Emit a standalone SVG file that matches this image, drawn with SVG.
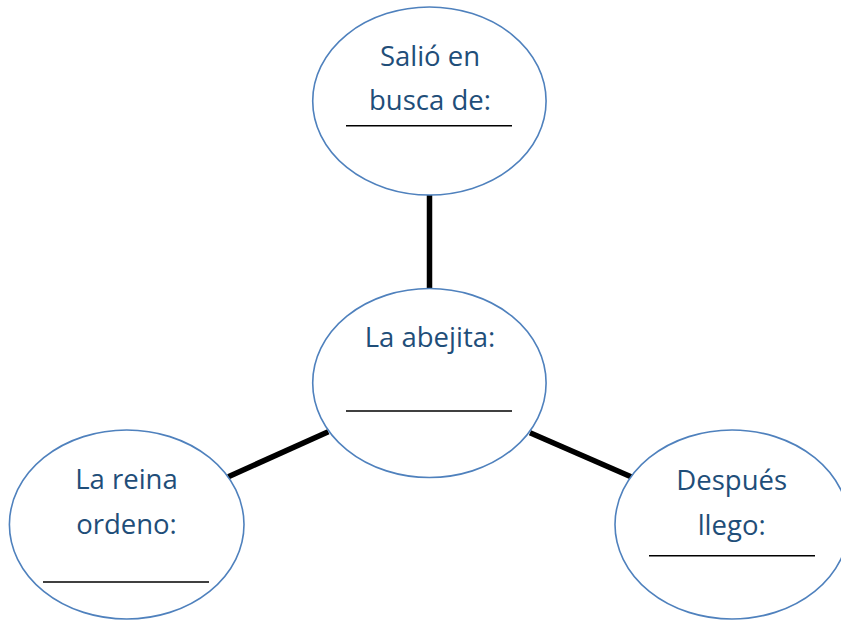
<svg xmlns="http://www.w3.org/2000/svg" width="841" height="621" viewBox="0 0 841 621">
  <style>
    .bubble { fill: #ffffff; stroke: #4F81BD; stroke-width: 1.6; }
    .label { font-family: "Open Sans", "Liberation Sans", sans-serif; font-size: 27.5px; fill: #1F4E79; text-anchor: middle; }
    .blank { stroke: #000000; stroke-width: 1.6; }
    .conn { stroke: #000000; stroke-width: 5.5; stroke-linecap: butt; }
  </style>
  <rect width="841" height="621" fill="#ffffff"/>
  <g id="connectors">
    <line class="conn" x1="429.5" y1="195" x2="429.5" y2="289"/>
    <line class="conn" x1="228.3" y1="476.7" x2="328.3" y2="431.7"/>
    <line class="conn" x1="530" y1="432.7" x2="631" y2="476.7"/>
  </g>
  <g id="node-top">
    <ellipse class="bubble" cx="429.4" cy="101" rx="116.7" ry="94"/>
    <text class="label" x="430" y="66">Salió en</text>
    <text class="label" x="430" y="110">busca de:</text>
    <line class="blank" x1="346" y1="125.7" x2="512" y2="125.7"/>
  </g>
  <g id="node-center">
    <ellipse class="bubble" cx="429.4" cy="383" rx="116.7" ry="94.5"/>
    <text class="label" x="430" y="347">La abejita:</text>
    <line class="blank" x1="346" y1="411" x2="512" y2="411"/>
  </g>
  <g id="node-left">
    <ellipse class="bubble" cx="126.7" cy="524.5" rx="117.3" ry="94.5"/>
    <text class="label" x="126.5" y="489">La reina</text>
    <text class="label" x="126.5" y="534">ordeno:</text>
    <line class="blank" x1="43" y1="582" x2="209" y2="582"/>
  </g>
  <g id="node-right">
    <ellipse class="bubble" cx="732" cy="524.5" rx="117" ry="94.5"/>
    <text class="label" x="731.7" y="490">Después</text>
    <text class="label" x="731.7" y="535">llego:</text>
    <line class="blank" x1="649" y1="555.7" x2="815" y2="555.7"/>
  </g>
</svg>
